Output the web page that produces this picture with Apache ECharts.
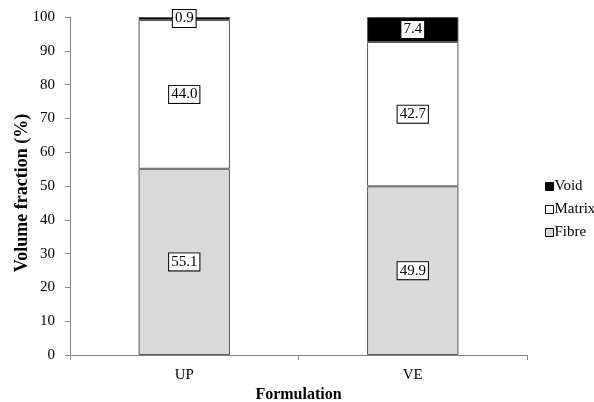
<!DOCTYPE html>
<html><head><meta charset="utf-8">
<script src="https://cdn.jsdelivr.net/npm/echarts@6/dist/echarts.min.js"></script>
<style>html,body{margin:0;padding:0;background:#fff}#c{width:594px;height:402px}</style>
</head><body><div id="c"></div>
<script>
const categories = ['UP', 'VE'];
const fibre = [55.1, 49.9];
const matrix = [44.0, 42.7];
const voidv = [0.9, 7.4];
const yTicks = [0, 10, 20, 30, 40, 50, 60, 70, 80, 90, 100];

const font = 'Liberation Serif, Times New Roman, serif';
const lbl = {
  show: true, position: 'inside', color: '#000', fontFamily: font, fontSize: 15,
  backgroundColor: '#fff', borderColor: '#000', borderWidth: 1, padding: [2, 2, 0, 2],
  formatter: p => p.value.toFixed(1)
};
const chart = echarts.init(document.getElementById('c'), null, {renderer: 'canvas'});
chart.setOption({
  animation: false,
  backgroundColor: '#fff',
  textStyle: {fontFamily: font},
  grid: {left: 70, right: 67, top: 17, bottom: 47, containLabel: false, outerBoundsMode: 'none'},
  legend: {
    orient: 'vertical', left: 540, top: 174, itemWidth: 8, itemHeight: 8, itemGap: 8,
    icon: 'rect', data: ['Void', 'Matrix', 'Fibre'],
    textStyle: {fontFamily: font, fontSize: 15, color: '#000', padding: [0, 0, 0, -4]},
    itemStyle: {borderColor: '#000', borderWidth: 1}
  },
  xAxis: {
    type: 'category', data: categories,
    name: 'Formulation', nameLocation: 'middle', nameGap: 32, nameMoveOverlap: false,
    nameTextStyle: {fontFamily: font, fontSize: 16, fontWeight: 'bold', color: '#000'},
    axisLine: {lineStyle: {color: '#868686', width: 1}},
    axisTick: {show: true, length: 5, lineStyle: {color: '#868686'}},
    axisLabel: {fontFamily: font, fontSize: 15, color: '#000', margin: 13}
  },
  yAxis: {
    type: 'value', min: 0, max: 100, interval: 10,
    name: 'Volume fraction (%)', nameLocation: 'middle', nameGap: 39, nameMoveOverlap: false,
    nameTextStyle: {fontFamily: font, fontSize: 18, fontWeight: 'bold', color: '#000', padding: [0, 14, 0, 0]},
    axisLine: {show: true, lineStyle: {color: '#868686', width: 1}},
    axisTick: {show: true, length: 5, lineStyle: {color: '#868686'}},
    splitLine: {show: false},
    axisLabel: {fontFamily: font, fontSize: 15, color: '#000', margin: 15,
      formatter: v => yTicks.includes(v) ? String(v) : ''}
  },
  series: [
    {name: 'Fibre', type: 'bar', stack: 's', data: fibre, barWidth: '40%',
     itemStyle: {color: '#d9d9d9', borderColor: '#595959', borderWidth: 1}, label: lbl},
    {name: 'Matrix', type: 'bar', stack: 's', data: matrix, barWidth: '40%',
     itemStyle: {color: '#ffffff', borderColor: '#595959', borderWidth: 1}, label: lbl},
    {name: 'Void', type: 'bar', stack: 's', data: voidv, barWidth: '40%',
     itemStyle: {color: '#000000', borderColor: '#595959', borderWidth: 1}, label: lbl}
  ]
});
</script></body></html>
